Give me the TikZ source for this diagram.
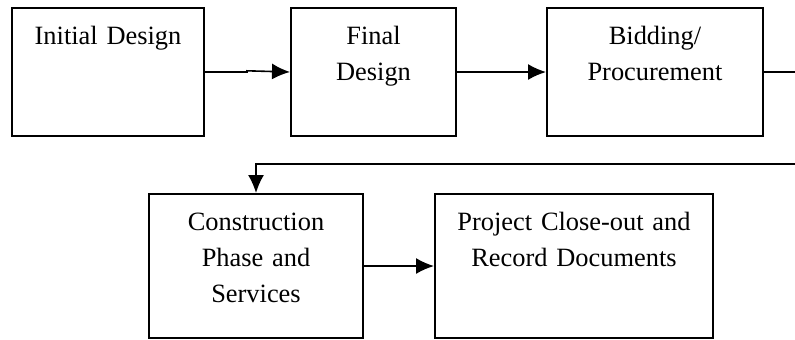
\documentclass[tikz,border=0pt]{standalone}
\usepackage{fontspec}
\setmainfont{Liberation Serif}
\usepackage{tikz}
\usetikzlibrary{calc}
\usetikzlibrary{positioning}
\usetikzlibrary{arrows.meta}

\begin{document}
\begin{tikzpicture} [>={Latex[length=9pt,width=8pt]}, font=\fontsize{13.2}{18}\selectfont]
            % Set primary nodes
            \tikzset{
                stageNode/.style={
                        draw,
                        rectangle,
                        line width=1pt,
                        inner sep=0pt,
                        align=center,
                        text height=18pt,
                        text depth=46pt
                    }
            }
            \tikzset{
                arrow/.style={
                        line width=0.8pt,
                        ->
                    }
            }
            \useasboundingbox (0,0) rectangle (397.5pt,-169.5pt);
            % Placing nodes
            \node[stageNode, text width=96pt, anchor=north west](initial) at (5.5pt,-3.5pt){Initial Design};
            \node[stageNode, text width=82.5pt, right = 42.5pt of initial](final){Final\\Design};
            \node[stageNode, text width=108pt, right = 44.5pt of final](bidding){Bidding/\\Procurement};
            \node[stageNode, text width=107pt, text depth=54pt, anchor=north west](construction) at (74pt,-96.5pt){Construction\\Phase and\\Services};
            \node[stageNode, text width=139pt, text depth=54pt, right = 35pt of construction](closeout){Project Close-out and\\Record Documents};
            \coordinate (rim) at (397.5pt,0);
            \coordinate (return) at (397.5pt,-82pt);
            % Draw arrows
            \draw[arrow](initial.east) -- ++(21pt,0) -- ++(0,0.6pt) -- (final.west);
            \draw[arrow](final.east) -- (bidding.west);
            \draw[line width=0.8pt](bidding.east) -- (bidding.east -| rim);
            \draw[arrow](return) -| (construction.north);
            \draw[arrow](construction.east) -- (closeout.west);
        \end{tikzpicture}
\end{document}
